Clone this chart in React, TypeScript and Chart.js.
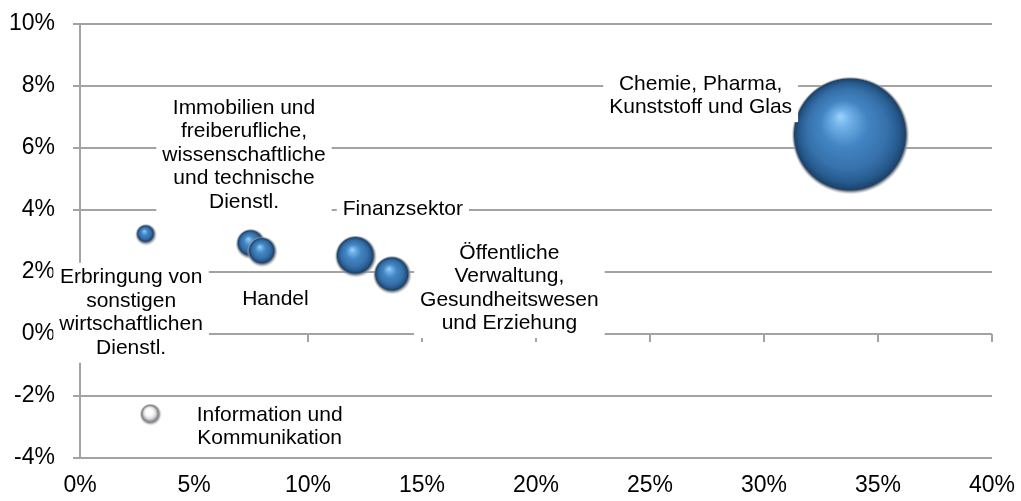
import React, { useEffect, useRef } from 'react';
import { Chart, registerables } from 'chart.js';

Chart.register(...registerables);

// ---- data ----
const categories = [
  'Erbringung von sonstigen wirtschaftlichen Dienstl.',
  'Immobilien und freiberufliche, wissenschaftliche und technische Dienstl.',
  'Handel',
  'Finanzsektor',
  'Öffentliche Verwaltung, Gesundheitswesen und Erziehung',
  'Chemie, Pharma, Kunststoff und Glas',
  'Information und Kommunikation',
];
const xValues = [2.9, 7.5, 8.0, 12.1, 13.7, 33.8, 3.1];
const yValues = [3.2, 2.9, 2.65, 2.5, 1.9, 6.4, -2.6];
const bubbleSizes = [3.6, 7, 7, 13, 11, 100, 3.6];
const labelLines = [
  ['Erbringung von', 'sonstigen', 'wirtschaftlichen', 'Dienstl.'],
  ['Immobilien und', 'freiberufliche,', 'wissenschaftliche', 'und technische', 'Dienstl.'],
  ['Handel'],
  ['Finanzsektor'],
  ['Öffentliche', 'Verwaltung,', 'Gesundheitswesen', 'und Erziehung'],
  ['Chemie, Pharma,', 'Kunststoff und Glas'],
  ['Information und', 'Kommunikation'],
];
const xTickValues = [0, 5, 10, 15, 20, 25, 30, 35, 40];
const yTickValues = [-4, -2, 0, 2, 4, 6, 8, 10];

// ---- layout / style (not data) ----
const labelOffsets: [number, number][] = [
  [-15, 78],
  [-7, -89],
  [13, 47],
  [47, -47],
  [117, 13],
  [-150, -40],
  [119, 12],
];
const greySeries = [false, false, false, false, false, false, true];
const MAX_R = 59;
const GRID = '#a3a3a3';
const TICK_FONT = { family: '"Liberation Sans", Arial, sans-serif', size: 23 };
const LABEL_FONT = '21px "Liberation Sans", Arial, sans-serif';

const sphereFill = (ctx: any) => {
  const fallback = greySeries[ctx.dataIndex] ? '#d0d0d0' : '#3c78b4';
  if (ctx.type !== 'data') return fallback;
  const chart = ctx.chart;
  const raw = ctx.raw;
  const xs = chart.scales && chart.scales.x;
  const ys = chart.scales && chart.scales.y;
  if (!xs || !ys || !raw) return fallback;
  const x = xs.getPixelForValue(raw.x);
  const y = ys.getPixelForValue(raw.y);
  const r = raw.r;
  if (!isFinite(x) || !isFinite(y) || !isFinite(r) || r <= 0) return fallback;
  const c = chart.ctx as CanvasRenderingContext2D;
  const g = c.createRadialGradient(x - r * 0.18, y - r * 0.33, 0, x, y, r);
  const halo = 3.5;
  const e = Math.max(0.5, (r - halo) / r);
  if (greySeries[ctx.dataIndex]) {
    g.addColorStop(0, '#ffffff');
    g.addColorStop(e * 0.45, '#fbfbfb');
    g.addColorStop(e * 0.75, '#dedede');
    g.addColorStop(e * 0.95, '#a8a8a8');
    g.addColorStop(e, '#8c8c8c');
  } else {
    g.addColorStop(0, '#9bd3ff');
    g.addColorStop(e * 0.15, '#72b2e8');
    g.addColorStop(e * 0.42, '#4285c2');
    g.addColorStop(e * 0.72, '#3671ab');
    g.addColorStop(e * 0.9, '#265a8e');
    g.addColorStop(e, '#1d4268');
  }
  g.addColorStop(Math.min(1, e + (1 - e) * 0.35), 'rgba(120,126,134,0.85)');
  g.addColorStop(1, 'rgba(200,200,200,0)');
  return g;
};

const axisTicksPlugin = {
  id: 'axisTicksAtZero',
  beforeDatasetsDraw(chart: any) {
    const c = chart.ctx;
    const xs = chart.scales.x;
    const ys = chart.scales.y;
    const y0 = ys.getPixelForValue(0);
    c.save();
    c.strokeStyle = GRID;
    c.lineWidth = 2;
    c.beginPath();
    xTickValues.forEach((v) => {
      const px = Math.round(xs.getPixelForValue(v));
      c.moveTo(px, y0);
      c.lineTo(px, y0 + 8);
    });
    c.stroke();
    c.restore();
  },
};

const labelsPlugin = {
  id: 'boxLabels',
  afterDatasetsDraw(chart: any) {
    const c = chart.ctx as CanvasRenderingContext2D;
    const meta = chart.getDatasetMeta(0);
    c.save();
    c.font = LABEL_FONT;
    c.textAlign = 'center';
    c.textBaseline = 'middle';
    const lh = 23.5;
    meta.data.forEach((el: any, i: number) => {
      const lines = labelLines[i];
      const [dx, dy] = labelOffsets[i];
      const cx = el.x + dx;
      const cy = el.y + dy;
      const w = Math.max(...lines.map((l) => c.measureText(l).width));
      const h = lines.length * lh;
      c.fillStyle = '#ffffff';
      c.fillRect(cx - w / 2 - 6, cy - h / 2 - 3, w + 12, h + 6);
      c.fillStyle = '#000000';
      lines.forEach((l, k) => {
        c.fillText(l, cx, cy - h / 2 + lh * (k + 0.5));
      });
    });
    c.restore();
  },
};

export default function App() {
  const ref = useRef<HTMLCanvasElement | null>(null);
  useEffect(() => {
    if (!ref.current) return;
    const data = categories.map((_, i) => ({
      x: xValues[i],
      y: yValues[i],
      r: MAX_R * Math.sqrt(bubbleSizes[i] / 100),
    }));
    const chart = new Chart(ref.current, {
      type: 'bubble',
      data: {
        labels: categories,
        datasets: [
          {
            label: 'Branchen',
            data,
            backgroundColor: sphereFill as any,
            borderWidth: 0,
            hoverBorderWidth: 0,
            clip: false as any,
          },
        ],
      },
      options: {
        responsive: false,
        animation: false,
        events: [],
        layout: { autoPadding: false, padding: { left: 0, right: 29, top: 24, bottom: 0 } },
        plugins: {
          legend: { display: false },
          tooltip: { enabled: false },
        },
        scales: {
          x: {
            type: 'linear',
            min: 0,
            max: 40,
            afterBuildTicks: (s: any) => {
              s.ticks = xTickValues.map((v) => ({ value: v }));
            },
            afterFit: (s: any) => {
              s.height = 43;
              s.paddingLeft = 0;
              s.paddingRight = 0;
              s.paddingTop = 0;
              s.paddingBottom = 0;
            },
            grid: { display: false },
            border: { display: false },
            ticks: {
              color: '#000',
              font: TICK_FONT,
              padding: 6,
              maxRotation: 0,
              callback: (v: any) => `${v}%`,
            },
          },
          y: {
            type: 'linear',
            min: -4,
            max: 10,
            afterBuildTicks: (s: any) => {
              s.ticks = yTickValues.map((v) => ({ value: v }));
            },
            afterFit: (s: any) => {
              s.width = 80;
              s.paddingLeft = 0;
              s.paddingRight = 0;
              s.paddingTop = 0;
              s.paddingBottom = 0;
            },
            grid: {
              color: GRID,
              lineWidth: 2,
              drawTicks: true,
              tickLength: 7,
            },
            border: { display: true, color: GRID, width: 2 },
            ticks: {
              color: '#000',
              font: TICK_FONT,
              padding: 18,
              callback: (v: any) => `${v}%`,
            },
          },
        },
      },
      plugins: [axisTicksPlugin, labelsPlugin],
    });
    return () => chart.destroy();
  }, []);
  return (
    <div style={{ position: 'absolute', left: 0, top: 0, width: 1021, height: 501, background: '#fff' }}>
      <canvas ref={ref} width={1021} height={501} style={{ display: 'block' }} />
    </div>
  );
}
